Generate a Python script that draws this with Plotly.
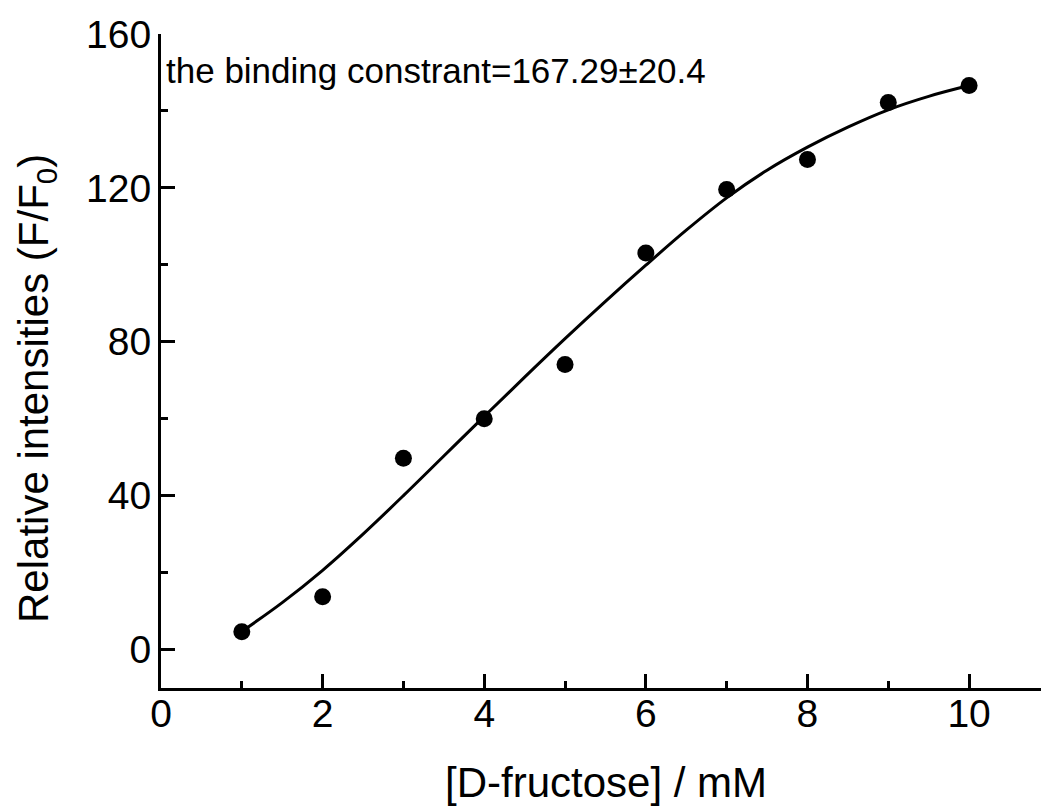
import plotly.graph_objects as go

# measured data
conc = [1, 2, 3, 4, 5, 6, 7, 8, 9, 10]
intensity = [4.6, 13.7, 49.7, 60.0, 74.1, 103.1, 119.6, 127.4, 142.2, 146.6]

# fitted curve
fit_x = [1, 1.5, 2, 2.5, 3, 3.5, 4, 4.5, 5, 5.5, 6, 6.5, 7, 7.5, 8, 8.5, 9, 9.5, 10]
fit_y = [4.7, 12.2, 20.6, 30.0, 40.0, 50.3, 60.6, 70.8, 80.8, 90.5, 99.9, 109.0,
         117.4, 124.6, 130.6, 135.8, 140.3, 143.8, 146.6]

x_ticks = [0, 2, 4, 6, 8, 10]
y_ticks = [0, 40, 80, 120, 160]

annotation_text = "the binding constrant=167.29\u00b120.4"
x_title = "[D-fructose] / mM"
y_title = "Relative intensities (F/F<sub>0</sub>)"

FONT = "Liberation Sans, Arial, sans-serif"

fig = go.Figure()
fig.add_trace(go.Scatter(x=fit_x, y=fit_y, mode="lines", line=dict(color="black", width=3, shape="spline"),
                         showlegend=False, hoverinfo="skip"))
fig.add_trace(go.Scatter(x=conc, y=intensity, mode="markers",
                         marker=dict(color="black", size=17, symbol="circle"), showlegend=False))

W, H = 1041, 807
L, R, T, B = 161, 0, 34, 119
pw, ph = W - L - R, H - T - B

fig.update_layout(
    width=W, height=H,
    margin=dict(l=L, r=R, t=T, b=B, pad=0),
    paper_bgcolor="white", plot_bgcolor="white",
    font=dict(family=FONT, color="black", size=39),
    xaxis=dict(range=[0, 10.89], tickvals=x_ticks, ticks="inside", ticklen=14, tickwidth=2.5,
               tickcolor="black", showline=True, linecolor="black", linewidth=3,
               showgrid=False, zeroline=False, tickfont=dict(size=39, family=FONT),
               minor=dict(dtick=1, tick0=0, ticks="inside", ticklen=7, tickwidth=2.5, tickcolor="black"),
               ticklabelstandoff=-11),
    yaxis=dict(range=[-10, 160], tickvals=y_ticks, ticks="inside", ticklen=14, tickwidth=2.5,
               tickcolor="black", showline=True, linecolor="black", linewidth=3,
               showgrid=False, zeroline=False, tickfont=dict(size=39, family=FONT),
               minor=dict(dtick=20, tick0=0, ticks="inside", ticklen=7, tickwidth=2.5, tickcolor="black"),
               ticklabelstandoff=-1),
)

fig.add_annotation(text=annotation_text, xref="paper", yref="paper",
                   x=(164 - L) / pw, y=1 - (71 - T) / ph, xanchor="left", yanchor="middle",
                   showarrow=False, font=dict(size=35, family=FONT, color="black"))
fig.add_annotation(text=x_title, xref="paper", yref="paper",
                   x=(606 - L) / pw, y=-(782 - (H - B)) / ph, xanchor="center", yanchor="middle",
                   showarrow=False, font=dict(size=42, family=FONT, color="black"))
fig.add_annotation(text=y_title, xref="paper", yref="paper", textangle=-90,
                   x=(36 - L) / pw, y=1 - (389 - T) / ph, xanchor="center", yanchor="middle",
                   showarrow=False, font=dict(size=42, family=FONT, color="black"))

fig.write_html("out.html")
